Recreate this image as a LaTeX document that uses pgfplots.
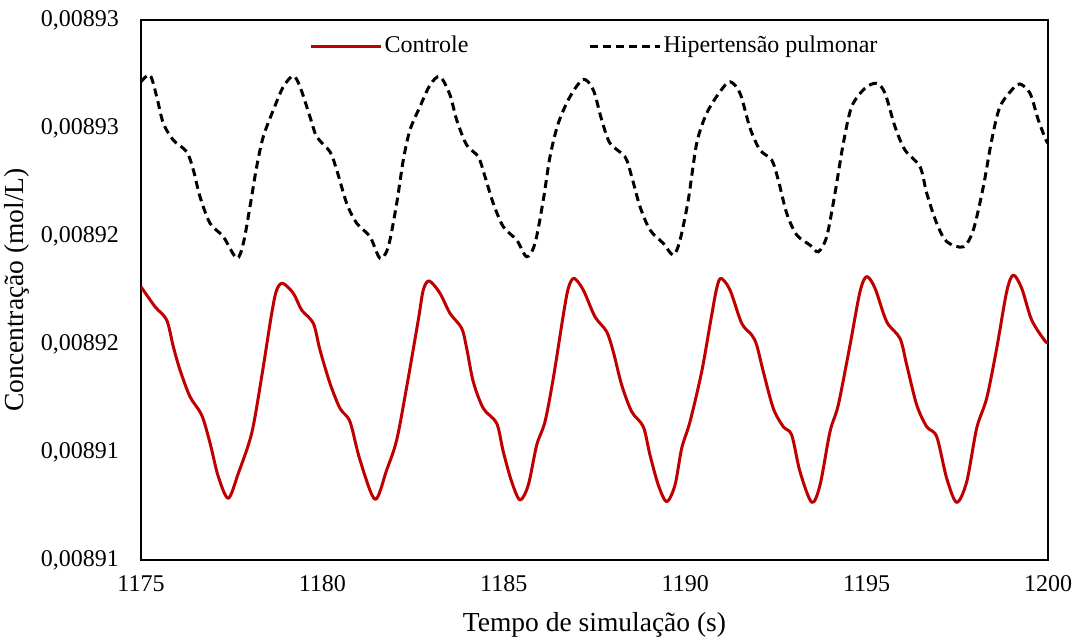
\documentclass[border=0pt]{standalone}
\usepackage{fontspec}
\setmainfont{Liberation Serif}
\usepackage{pgfplots}
\pgfplotsset{compat=1.18}
\definecolor{ctrl}{RGB}{192,0,0}
\begin{document}
\fontsize{24}{28}\selectfont
\begin{tikzpicture}[x=1pt,y=1pt]
\useasboundingbox (-141,-81) rectangle (940,560);
\begin{axis}[
  at={(0pt,0pt)}, anchor=south west,
  scale only axis, width=907pt, height=540pt,
  xmin=1175, xmax=1200, ymin=0.008905, ymax=0.008930,
  scaled y ticks=false, scaled x ticks=false,
  xtick={1175,1180,1185,1190,1195,1200},
  xticklabels={1175,1180,1185,1190,1195,1200},
  ytick={0.008905,0.00891,0.008915,0.00892,0.008925,0.00893},
  yticklabels={{0,00891},{0,00891},{0,00892},{0,00892},{0,00893},{0,00893}},
  major tick length=0pt,
  tick label style={font=\fontsize{24}{28}\selectfont},
  yticklabel style={anchor=east, inner sep=0pt, xshift=-22pt},
  xticklabel style={anchor=north, inner sep=0pt, yshift=-15pt},
  axis line style={black, line width=1.2pt},
  xlabel={Tempo de simulação (s)},
  ylabel={Concentração (mol/L)},
  every axis x label/.style={at={(axis description cs:0.5,-0.1204)}, anchor=center, inner sep=0pt, font=\fontsize{27.5}{32}\selectfont},
  every axis y label/.style={at={(axis description cs:-0.1366,0.5)}, rotate=90, anchor=center, inner sep=0pt, font=\fontsize{27.5}{32}\selectfont},
  legend style={at={(axis description cs:0.5,1)}, anchor=north, yshift=-12pt, draw=none, fill=none,
    font=\fontsize{24}{28}\selectfont, legend columns=2,
    /tikz/every even column/.append style={column sep=118pt}},
  legend image code/.code={\draw[#1] (0pt,0pt) -- (70pt,0pt);},
  clip=true,
]
\addplot[ctrl, line width=3pt, smooth, line join=round] table {
1175.000 0.00891765
1175.386 0.00891673
1175.708 0.00891611
1175.890 0.00891488
1176.075 0.00891380
1176.351 0.00891256
1176.673 0.00891171
1176.902 0.00891042
1177.131 0.00890886
1177.406 0.00890786
1177.682 0.00890901
1178.051 0.00891087
1178.327 0.00891349
1178.603 0.00891642
1178.740 0.00891750
1178.906 0.00891781
1179.198 0.00891735
1179.429 0.00891657
1179.749 0.00891596
1179.934 0.00891472
1180.209 0.00891318
1180.485 0.00891202
1180.761 0.00891140
1181.036 0.00890963
1181.450 0.00890781
1181.772 0.00890917
1182.048 0.00891056
1182.324 0.00891302
1182.643 0.00891611
1182.781 0.00891750
1182.946 0.00891792
1183.241 0.00891735
1183.517 0.00891642
1183.839 0.00891573
1183.977 0.00891480
1184.159 0.00891325
1184.435 0.00891202
1184.804 0.00891133
1184.986 0.00891001
1185.218 0.00890862
1185.447 0.00890778
1185.675 0.00890847
1185.907 0.00891032
1186.135 0.00891140
1186.364 0.00891341
1186.640 0.00891634
1186.778 0.00891758
1186.935 0.00891804
1187.191 0.00891750
1187.514 0.00891626
1187.836 0.00891557
1188.018 0.00891464
1188.250 0.00891310
1188.525 0.00891187
1188.845 0.00891117
1189.030 0.00890986
1189.259 0.00890847
1189.490 0.00890770
1189.719 0.00890847
1189.903 0.00891017
1190.132 0.00891140
1190.455 0.00891372
1190.730 0.00891634
1190.868 0.00891758
1190.987 0.00891804
1191.235 0.00891750
1191.557 0.00891596
1191.833 0.00891542
1191.971 0.00891495
1192.153 0.00891372
1192.428 0.00891202
1192.704 0.00891117
1192.935 0.00891079
1193.164 0.00890909
1193.487 0.00890767
1193.716 0.00890847
1193.991 0.00891094
1194.220 0.00891218
1194.543 0.00891495
1194.818 0.00891742
1195.003 0.00891812
1195.232 0.00891758
1195.554 0.00891603
1195.921 0.00891526
1196.106 0.00891403
1196.381 0.00891218
1196.657 0.00891117
1196.932 0.00891071
1197.208 0.00890878
1197.483 0.00890767
1197.759 0.00890862
1198.034 0.00891110
1198.310 0.00891249
1198.586 0.00891480
1198.861 0.00891742
1199.043 0.00891819
1199.275 0.00891758
1199.550 0.00891611
1199.917 0.00891514
1200.000 0.00891509
};
\addlegendentry{Controle}
\addplot[black, line width=3pt, smooth, dash pattern=on 8pt off 5pt] table {
1175.000 0.00892714
1175.248 0.00892745
1175.433 0.00892645
1175.615 0.00892522
1175.890 0.00892444
1176.260 0.00892390
1176.442 0.00892306
1176.626 0.00892182
1176.902 0.00892059
1177.268 0.00891997
1177.638 0.00891897
1177.820 0.00891966
1178.004 0.00892136
1178.189 0.00892321
1178.371 0.00892460
1178.647 0.00892583
1178.922 0.00892691
1179.198 0.00892741
1179.383 0.00892691
1179.658 0.00892552
1179.843 0.00892460
1180.209 0.00892390
1180.394 0.00892306
1180.670 0.00892151
1180.945 0.00892059
1181.312 0.00891997
1181.588 0.00891897
1181.816 0.00891950
1182.048 0.00892151
1182.230 0.00892352
1182.414 0.00892491
1182.690 0.00892599
1182.966 0.00892699
1183.241 0.00892738
1183.517 0.00892653
1183.702 0.00892537
1183.977 0.00892421
1184.297 0.00892367
1184.482 0.00892275
1184.710 0.00892151
1184.986 0.00892043
1185.356 0.00891981
1185.631 0.00891904
1185.860 0.00891966
1186.089 0.00892167
1186.273 0.00892367
1186.502 0.00892522
1186.825 0.00892645
1187.191 0.00892725
1187.467 0.00892676
1187.699 0.00892537
1187.928 0.00892429
1188.341 0.00892367
1188.525 0.00892275
1188.754 0.00892136
1189.030 0.00892028
1189.396 0.00891966
1189.672 0.00891912
1189.857 0.00891981
1190.085 0.00892167
1190.317 0.00892429
1190.592 0.00892568
1190.959 0.00892668
1191.235 0.00892714
1191.511 0.00892661
1191.786 0.00892500
1192.062 0.00892398
1192.384 0.00892352
1192.566 0.00892259
1192.798 0.00892105
1193.073 0.00892005
1193.440 0.00891958
1193.669 0.00891927
1193.900 0.00891997
1194.129 0.00892198
1194.358 0.00892429
1194.589 0.00892599
1194.956 0.00892684
1195.278 0.00892707
1195.507 0.00892661
1195.783 0.00892506
1196.058 0.00892398
1196.472 0.00892321
1196.657 0.00892198
1196.932 0.00892059
1197.208 0.00891974
1197.666 0.00891950
1197.941 0.00892028
1198.217 0.00892228
1198.448 0.00892444
1198.677 0.00892599
1199.043 0.00892684
1199.228 0.00892704
1199.504 0.00892661
1199.733 0.00892537
1199.945 0.00892444
1200.000 0.00892431
};
\addlegendentry{Hipertensão pulmonar}
\end{axis}
\end{tikzpicture}
\end{document}
